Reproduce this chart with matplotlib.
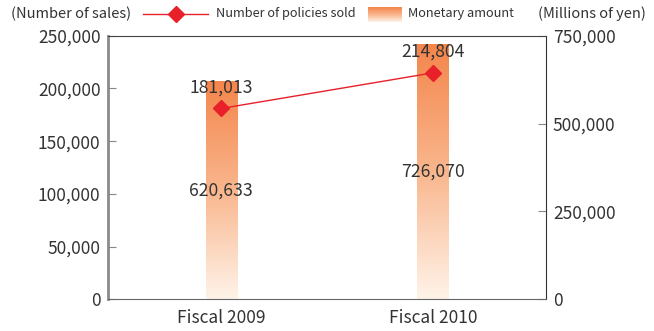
import numpy as np
import matplotlib
matplotlib.use('Agg')
import matplotlib.pyplot as plt
from matplotlib.colors import LinearSegmentedColormap
from matplotlib.lines import Line2D
from matplotlib.ticker import StrMethodFormatter

plt.rcParams['font.family'] = ['Noto Sans CJK JP', 'DejaVu Sans']

years = ['Fiscal 2009', 'Fiscal 2010']
policies_sold = [181013, 214804]      # number of sales (left axis)
monetary_amount = [620633, 726070]    # millions of yen (right axis)

left_ticks = [0, 50000, 100000, 150000, 200000, 250000]
right_ticks = [0, 250000, 500000, 750000]

txt = '#333333'
red = '#E8202A'
fade = LinearSegmentedColormap.from_list('fade', ['#FFF3E9', '#F9B68D', '#F4854B'])
grad = np.linspace(0, 1, 256).reshape(-1, 1)

fig = plt.figure(figsize=(6.54, 3.31), dpi=100)
ax = fig.add_axes([0.1644, 0.0958, 0.6705, 0.7962])
ax2 = ax.twinx()
ax.set_zorder(2)
ax.patch.set_visible(False)

x = np.arange(len(years))

# gradient bars for the yen amounts
bars = ax2.bar(x, monetary_amount, width=0.147, color='none', edgecolor='none')
for b, v in zip(bars, monetary_amount):
    im = ax2.imshow(grad, cmap=fade, origin='lower', aspect='auto',
                    extent=[b.get_x(), b.get_x() + b.get_width(), 0, b.get_height()])
    im.set_clip_path(b)
    ax2.text(b.get_x() + b.get_width() / 2, v / 2, f'{v:,}', ha='center', va='center',
             fontsize=12.7, color=txt)

# policies sold line
ax.plot(x, policies_sold, color=red, lw=1, marker='D', ms=8, mfc=red, mec=red)
for xi, v in zip(x, policies_sold):
    ax.annotate(f'{v:,}', (xi, v), xytext=(0, 15), textcoords='offset points',
                ha='center', va='center', fontsize=12.7, color=txt)

ax.set_xlim(-0.537, 1.534)
ax2.set_xlim(-0.537, 1.534)
ax.set_ylim(0, 250000)
ax2.set_ylim(0, 750000)

ax.set_xticks(x, years)
ax.set_yticks(left_ticks)
ax2.set_yticks(right_ticks)
ax.yaxis.set_major_formatter(StrMethodFormatter('{x:,.0f}'))
ax2.yaxis.set_major_formatter(StrMethodFormatter('{x:,.0f}'))

ax.tick_params(axis='x', length=0, labelsize=12.5, labelcolor=txt, pad=7)
ax.tick_params(axis='y', direction='in', length=6, color='#888888', labelsize=12.5,
               labelcolor=txt, pad=5)
ax2.tick_params(axis='y', direction='in', length=6, color='#888888', labelsize=12.5,
                labelcolor=txt, pad=5)

ax.spines['left'].set_color('#8a8a8a')
ax.spines['left'].set_linewidth(2)
ax.spines['top'].set_color('#444444')
ax.spines['bottom'].set_color('#666666')
ax.spines['right'].set_visible(False)
for s in ['left', 'top', 'bottom']:
    ax2.spines[s].set_visible(False)
ax2.spines['right'].set_color('#333333')

# header: units and legend
hy = 1 - 14 / 331
fig.text(11 / 654, hy, '(Number of sales)', fontsize=10.5, color=txt, va='center')
fig.text(646 / 654, hy, '(Millions of yen)', fontsize=10.5, color=txt,
         va='center', ha='right')
fig.add_artist(Line2D([143 / 654, 208 / 654], [hy] * 2, color=red, lw=1))
fig.add_artist(Line2D([175.5 / 654], [hy], color=red, marker='D', ms=8))
fig.text(216 / 654, hy, 'Number of policies sold', fontsize=9.2, color=txt,
         va='center')
key = fig.add_axes([368 / 654, 1 - 22 / 331, 34 / 654, 15 / 331])
key.imshow(grad, cmap=fade, origin='lower', aspect='auto')
key.axis('off')
fig.text(408 / 654, hy, 'Monetary amount', fontsize=9.2, color=txt, va='center')

fig.savefig('out.png', dpi=100)
